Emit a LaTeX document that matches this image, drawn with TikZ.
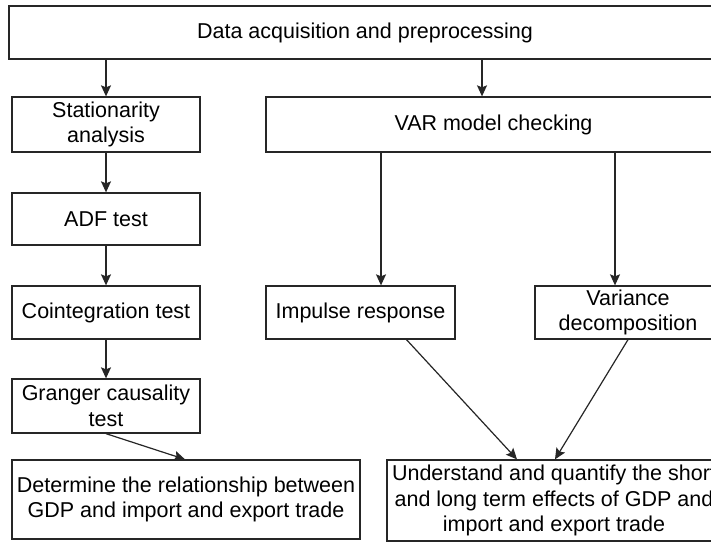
\documentclass[tikz,border=0pt]{standalone}
\usepackage{fontspec}
\setmainfont{Liberation Sans}
\usetikzlibrary{arrows.meta,calc}

\tikzset{
  stepbox/.style={draw=black!85, line width=1.3pt, rectangle, inner sep=0pt,
    align=center, font=\fontsize{21.5}{25.5}\selectfont, text=black},
  flow/.style={draw=black!85, line width=1.2pt,
    -{Stealth[length=11pt,width=10pt,inset=2pt]}}
}

\begin{document}
\begin{tikzpicture}[x=1pt,y=-1pt]
  \useasboundingbox (0,0) rectangle (711,545);
  \fill[white] (0,0) rectangle (711,545);
  \clip (0,0) rectangle (711,545);

  % boxes
  \node[stepbox, minimum width=712pt, minimum height=53pt] (top) at (365,32.5) {Data acquisition and preprocessing};
  \node[stepbox, minimum width=188pt, minimum height=55pt] (stat) at (106,124.5) {Stationarity\\analysis};
  \node[stepbox, minimum width=455pt, minimum height=55pt] (var) at (493.5,124.5) {VAR model checking};
  \node[stepbox, minimum width=188pt, minimum height=52pt] (adf) at (106,219) {ADF test};
  \node[stepbox, minimum width=188pt, minimum height=53pt] (coint) at (106,312.5) {Cointegration test};
  \node[stepbox, minimum width=188pt, minimum height=54pt] (granger) at (106,406) {Granger causality\\test};
  \node[stepbox, minimum width=348pt, minimum height=79pt] (det) at (186,499.5) {Determine the relationship between\\GDP and import and export trade};
  \node[stepbox, minimum width=189pt, minimum height=53pt] (imp) at (360.5,312.5) {Impulse response};
  \node[stepbox, minimum width=186pt, minimum height=53pt] (vard) at (628,312.5) {Variance\\decomposition};
  \node[stepbox, minimum width=334pt, minimum height=81pt] (und) at (554,500.5) {Understand and quantify the short\\and long term effects of GDP and\\import and export trade};

  % connectors
  \draw[flow] (top.south -| stat.north) -- (stat.north);
  \draw[flow] ($(top.south)+(117,0)$) -- ($(var.north)+(-11.5,0)$);
  \draw[flow] (stat) -- (adf);
  \draw[flow] (adf) -- (coint);
  \draw[flow] (coint) -- (granger);
  \draw[flow] (granger.south) -- ($(det.north)+(-1,0)$);
  \draw[flow] ($(var.south)+(-112.5,0)$) -- ($(imp.north)+(20.5,0)$);
  \draw[flow] ($(var.south)+(121.5,0)$) -- ($(vard.north)+(-13,0)$);
  \draw[flow] ($(imp.south)+(46,0)$) -- ($(und.north)+(-37,0)$);
  \draw[flow] (vard.south) -- ($(und.north)+(1,0)$);
\end{tikzpicture}
\end{document}
